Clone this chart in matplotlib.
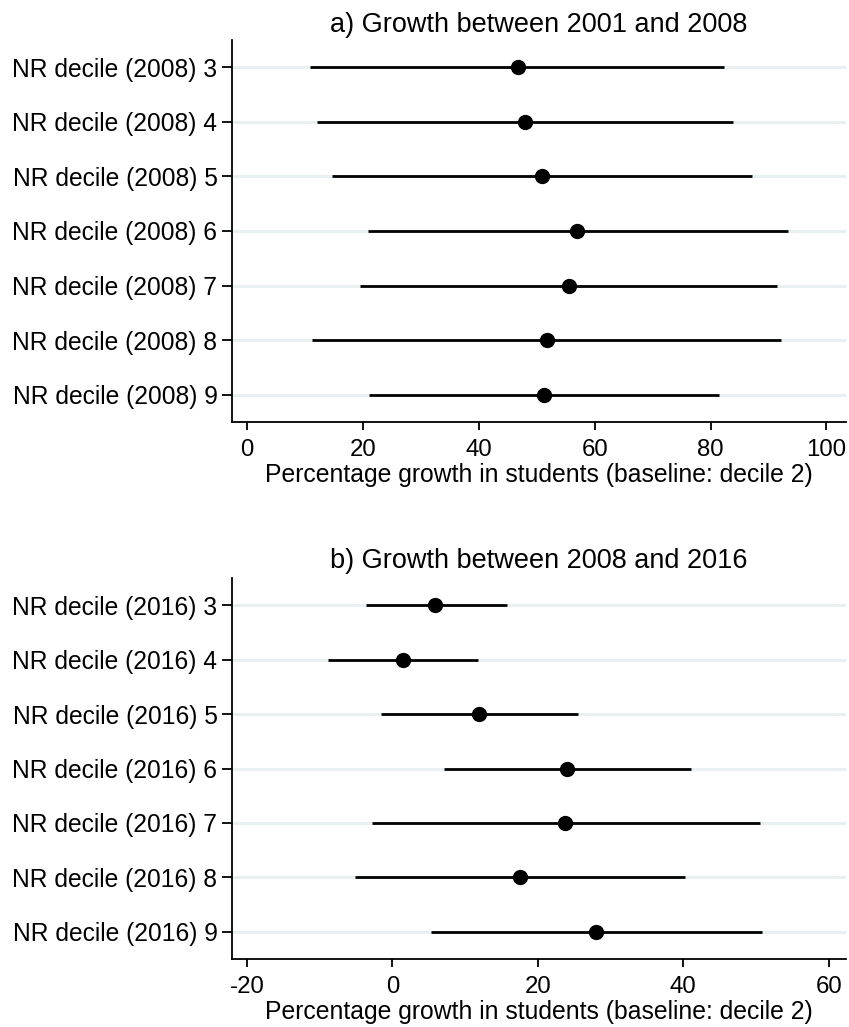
import numpy as np
import matplotlib.pyplot as plt

plt.rcParams['font.family'] = ['Liberation Sans', 'DejaVu Sans']
plt.rcParams['axes.unicode_minus'] = False

deciles = [3, 4, 5, 6, 7, 8, 9]

# panel a: 2001-2008
est_a = [46.7, 47.9, 50.9, 56.9, 55.6, 51.7, 51.3]
lo_a = [10.9, 12.1, 14.7, 20.8, 19.5, 11.2, 21.1]
hi_a = [82.4, 83.8, 87.2, 93.3, 91.5, 92.2, 81.4]

# panel b: 2008-2016
est_b = [5.9, 1.5, 11.9, 24.0, 23.8, 17.5, 28.0]
lo_b = [-3.7, -8.9, -1.6, 7.1, -2.8, -5.2, 5.3]
hi_b = [15.7, 11.8, 25.5, 41.0, 50.5, 40.3, 50.8]

grid_col = '#e8f0f2'

fig = plt.figure(figsize=(8.49, 10.27), dpi=100)
ax1 = fig.add_axes([0.2733, 0.5891, 0.7233, 0.3720])
ax2 = fig.add_axes([0.2733, 0.0662, 0.7233, 0.3710])


def coefplot(ax, est, lo, hi, year, title, xticks, xlim, tpad):
    y = np.arange(1, len(est) + 1)
    for yy in y:
        ax.axhline(yy, color=grid_col, lw=2.2, zorder=0)
    ax.hlines(y, lo, hi, color='black', lw=2.0, zorder=2)
    ax.plot(est, y, 'o', color='black', ms=10, zorder=3)
    ax.set_ylim(len(est) + 0.5, 0.5)
    ax.set_yticks(y)
    ax.set_yticklabels([f'NR decile ({year}) {d}' for d in deciles])
    ax.set_xlim(*xlim)
    ax.set_xticks(xticks)
    ax.set_xticklabels([str(t) for t in xticks])
    ax.tick_params(axis='y', direction='out', length=7, width=1.3,
                   labelsize=17.7, color='black', pad=3.5)
    ax.tick_params(axis='x', direction='out', length=6, width=1.3,
                   labelsize=17.3, color='black', pad=6.5)
    for side in ['top', 'right']:
        ax.spines[side].set_visible(False)
    for side in ['left', 'bottom']:
        ax.spines[side].set_linewidth(1.3)
    ax.set_xlabel('Percentage growth in students (baseline: decile 2)',
                  fontsize=17.8, labelpad=1.5)
    ax.set_title(title, fontsize=19.5, pad=tpad)


coefplot(ax1, est_a, lo_a, hi_a, 2008, 'a) Growth between 2001 and 2008',
         [0, 20, 40, 60, 80, 100], (-2.6, 103.4), 6)
coefplot(ax2, est_b, lo_b, hi_b, 2016, 'b) Growth between 2008 and 2016',
         [-20, 0, 20, 40, 60], (-22.06, 62.4), 7.5)

fig.savefig('out.png', dpi=100)
